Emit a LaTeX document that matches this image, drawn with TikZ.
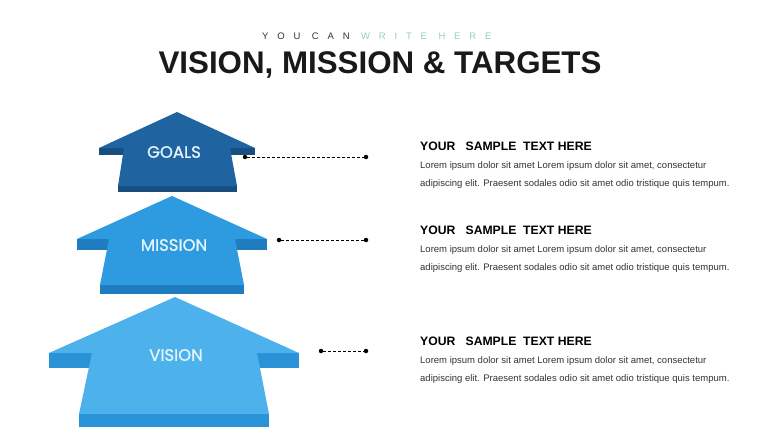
\documentclass[tikz,border=0pt]{standalone}
\usepackage{fontspec}
\setmainfont{Liberation Sans}
\newfontfamily\lblfont[FakeBold=1]{Poppins}
\newfontfamily\spacedfont[LetterSpace=93]{Liberation Sans}
\usetikzlibrary{positioning}
\definecolor{goalsT}{HTML}{1F64A0}
\definecolor{goalsD}{HTML}{164E80}
\definecolor{missT}{HTML}{2E9BE0}
\definecolor{missD}{HTML}{1F7CBF}
\definecolor{visT}{HTML}{4DB1EC}
\definecolor{visD}{HTML}{2A92D6}
\definecolor{subgray}{HTML}{333333}
\definecolor{subteal}{HTML}{9ACACA}
\definecolor{bodygray}{HTML}{333333}
\definecolor{lbl}{HTML}{E6F4FC}
\tikzset{
  lbltext/.style={font=\lblfont\fontsize{16.5}{16.5}\selectfont, text=lbl, inner sep=0pt},
  headtext/.style={font=\bfseries\fontsize{12.2}{14}\selectfont, anchor=west, inner sep=0pt},
  bodytext/.style={font=\fontsize{9.5}{18}\selectfont, text=bodygray, anchor=north west, inner sep=0pt, align=left},
  conn/.style={densely dashed, line width=0.9pt, black},
  enddot/.style={circle, fill=black, inner sep=0pt, minimum size=4.5pt},
}
\begin{document}
\begin{tikzpicture}[x=1pt,y=-1pt]
\useasboundingbox (0,0) rectangle (760,428);
\fill[white] (0,0) rectangle (760,428);

% titles
\node[inner sep=0pt, anchor=west, font=\spacedfont\fontsize{9.5}{9.5}\selectfont] (sub) at (262,36) {\textcolor{subgray}{YOU CAN} \textcolor{subteal}{WRITE HERE}};
\node[inner sep=0pt, font=\bfseries\fontsize{31.3}{32}\selectfont, text=black!90] (title) at (380,65) {VISION, MISSION \& TARGETS};

% VISION arrow
\fill[visD] (49,353) rectangle (92,368);
\fill[visD] (257,353) rectangle (299,368);
\fill[visD] (79,414) rectangle (269,427);
\fill[visT] (175,297) -- (299,353) -- (257,353) -- (269,414) -- (79,414) -- (92,353) -- (49,353) -- cycle;
\node[lbltext] (vision) at (176,355) {VISION};

% MISSION arrow
\fill[missD] (77,239) rectangle (109,250);
\fill[missD] (235,239) rectangle (267,250);
\fill[missD] (100,285) rectangle (244,294);
\fill[missT] (172,196) -- (267,239) -- (235,239) -- (244,285) -- (100,285) -- (109,239) -- (77,239) -- cycle;
\node[lbltext] (mission) at (174,245) {MISSION};

% GOALS arrow
\fill[goalsD] (99,148) rectangle (124,155);
\fill[goalsD] (230,148) rectangle (255,155);
\fill[goalsD] (118,186) rectangle (237,192);
\fill[goalsT] (177,112) -- (255,148) -- (230,148) -- (237,186) -- (118,186) -- (124,148) -- (99,148) -- cycle;
\node[lbltext] (goals) at (174,152) {GOALS};

% connectors
\node[enddot] (g1) at (245,157) {};
\node[enddot] (g2) at (366,157) {};
\draw[conn] (g1) -- (g2);
\node[enddot] (m1) at (279,240) {};
\node[enddot] (m2) at (366,240) {};
\draw[conn] (m1) -- (m2);
\node[enddot] (v1) at (321,351) {};
\node[enddot] (v2) at (366,351) {};
\draw[conn] (v1) -- (v2);

% text blocks
\node[headtext] (h1) at (420,146) {YOUR\ \ \ SAMPLE\ \ TEXT HERE};
\node[bodytext] (b1) at (420,161) {Lorem ipsum dolor sit amet Lorem ipsum dolor sit amet, consectetur\\adipiscing elit. Praesent sodales odio sit amet odio tristique quis tempum.};
\node[headtext] (h2) at (420,230) {YOUR\ \ \ SAMPLE\ \ TEXT HERE};
\node[bodytext] (b2) at (420,245) {Lorem ipsum dolor sit amet Lorem ipsum dolor sit amet, consectetur\\adipiscing elit. Praesent sodales odio sit amet odio tristique quis tempum.};
\node[headtext] (h3) at (420,341) {YOUR\ \ \ SAMPLE\ \ TEXT HERE};
\node[bodytext] (b3) at (420,356) {Lorem ipsum dolor sit amet Lorem ipsum dolor sit amet, consectetur\\adipiscing elit. Praesent sodales odio sit amet odio tristique quis tempum.};
\end{tikzpicture}
\end{document}
